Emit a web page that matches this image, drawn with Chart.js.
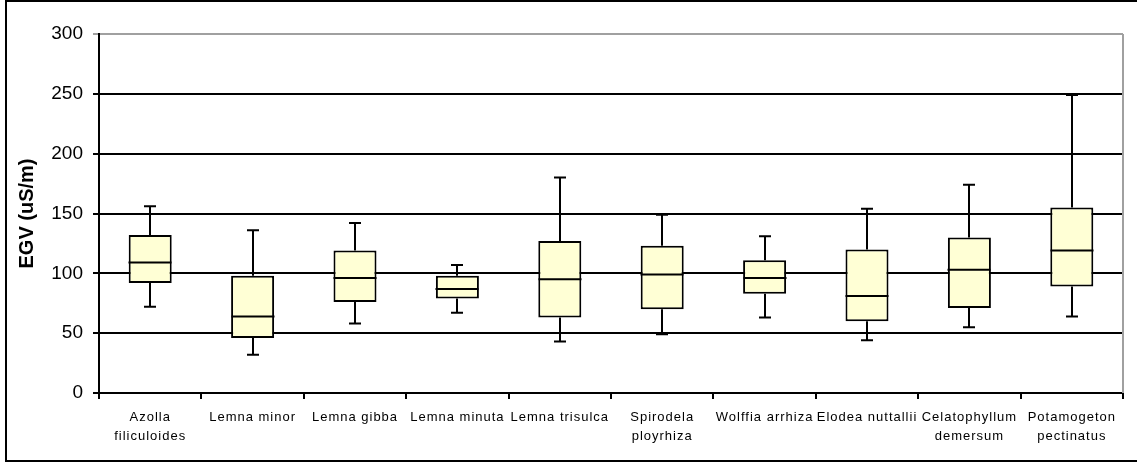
<!DOCTYPE html>
<html>
<head>
<meta charset="utf-8">
<script src="https://cdn.jsdelivr.net/npm/chart.js@4/dist/chart.umd.min.js"></script>
<style>
  html, body { margin: 0; padding: 0; background: #fff; }
  #wrap { width: 1137px; height: 463px; position: relative; }
</style>
</head>
<body>
<div id="wrap"><canvas id="egv"></canvas></div>
<script>
const species = [
  ['Azolla', 'filiculoides'],
  'Lemna minor',
  'Lemna gibba',
  'Lemna minuta',
  'Lemna trisulca',
  ['Spirodela', 'ployrhiza'],
  'Wolffia arrhiza',
  'Elodea nuttallii',
  ['Celatophyllum', 'demersum'],
  ['Potamogeton', 'pectinatus']
]
const minVals = [72, 32, 58, 67, 43, 49, 63, 44, 55, 64]
const q1Vals = [92, 46, 76, 79, 63, 70, 83, 60, 71, 89]
const medianVals = [109, 64, 96, 87, 95, 99, 96, 81, 103, 119]
const q3Vals = [132, 98, 119, 98, 127, 123, 111, 120, 130, 155]
const maxVals = [156, 136, 142, 107, 180, 149, 131, 154, 174, 249]
const yTicks = [0, 50, 100, 150, 200, 250, 300]

// whiskers, caps and median lines
const boxExtras = {
  id: 'boxExtras',
  beforeDraw(chart) {
    // wider letter spacing for the category labels only
    const sc = chart.scales.x
    if (sc && !sc._spaced) {
      const orig = sc.drawLabels
      sc.drawLabels = function (area) {
        this.ctx.save()
        this.ctx.letterSpacing = '1px'
        orig.call(this, area)
        this.ctx.restore()
      }
      sc._spaced = true
    }
  },
  afterDatasetsDraw(chart) {
    const ctx = chart.ctx
    const x = chart.scales.x, y = chart.scales.y
    const meta = chart.getDatasetMeta(0)
    ctx.save()
    ctx.strokeStyle = '#000'
    ctx.lineWidth = 2
    species.forEach((s, i) => {
      const cx = Math.round(x.getPixelForValue(i))
      const half = meta.data[i].width / 2
      const cap = 6
      ctx.beginPath()
      // upper whisker
      ctx.moveTo(cx, y.getPixelForValue(q3Vals[i]))
      ctx.lineTo(cx, y.getPixelForValue(maxVals[i]))
      ctx.moveTo(cx - cap, y.getPixelForValue(maxVals[i]))
      ctx.lineTo(cx + cap, y.getPixelForValue(maxVals[i]))
      // lower whisker
      ctx.moveTo(cx, y.getPixelForValue(q1Vals[i]))
      ctx.lineTo(cx, y.getPixelForValue(minVals[i]))
      ctx.moveTo(cx - cap, y.getPixelForValue(minVals[i]))
      ctx.lineTo(cx + cap, y.getPixelForValue(minVals[i]))
      // median
      ctx.moveTo(cx - half, y.getPixelForValue(medianVals[i]))
      ctx.lineTo(cx + half, y.getPixelForValue(medianVals[i]))
      ctx.stroke()
    })
    ctx.restore()
  },
  afterDraw(chart) {
    const ctx = chart.ctx
    const a = chart.chartArea
    ctx.save()
    // gray right edge of plot
    ctx.strokeStyle = '#a0a0a0'
    ctx.lineWidth = 2
    ctx.beginPath()
    ctx.moveTo(a.right, a.top)
    ctx.lineTo(a.right, a.bottom)
    ctx.stroke()
    // outer frame
    ctx.strokeStyle = '#000'
    ctx.lineWidth = 2
    ctx.strokeRect(6, 1, 1140, 460)
    ctx.restore()
  }
}

new Chart(document.getElementById('egv'), {
  type: 'bar',
  data: {
    labels: species,
    datasets: [{
      data: q1Vals.map((v, i) => [v, q3Vals[i]]),
      backgroundColor: '#ffffd5',
      borderColor: '#000',
      borderWidth: 2,
      borderSkipped: false,
      categoryPercentage: 1,
      barPercentage: 0.42
    }]
  },
  options: {
    responsive: true,
    maintainAspectRatio: false,
    animation: false,
    layout: { padding: { left: 0, top: 34, right: 14, bottom: 0 } },
    plugins: { legend: { display: false }, tooltip: { enabled: false } },
    scales: {
      x: {
        grid: { drawOnChartArea: false, drawTicks: true, tickLength: 6, color: '#000', lineWidth: 2, offset: true },
        border: { color: '#000', width: 2 },
        ticks: {
          color: '#000',
          padding: 9,
          maxRotation: 0,
          autoSkip: false,
          font: { family: 'Liberation Sans, Arial', size: 13, lineHeight: 1.45 }
        },
        afterFit(scale) { scale.height = 70 }
      },
      y: {
        min: 0,
        max: 300,
        afterBuildTicks(scale) { scale.ticks = yTicks.map(v => ({ value: v })) },
        grid: {
          color: c => c.tick && c.tick.value === 300 ? '#a0a0a0' : '#000',
          lineWidth: 2,
          tickLength: 6
        },
        border: { color: '#000', width: 2 },
        ticks: {
          color: '#000',
          padding: 10,
          font: { family: 'Liberation Sans, Arial', size: 19 }
        },
        title: {
          display: true,
          text: 'EGV (uS/m)',
          color: '#000',
          padding: { top: 15, bottom: 0 },
          font: { family: 'Liberation Sans, Arial', size: 20, weight: 'bold' }
        },
        afterFit(scale) { scale.width = 99 }
      }
    }
  },
  plugins: [boxExtras]
})
</script>
</body>
</html>
